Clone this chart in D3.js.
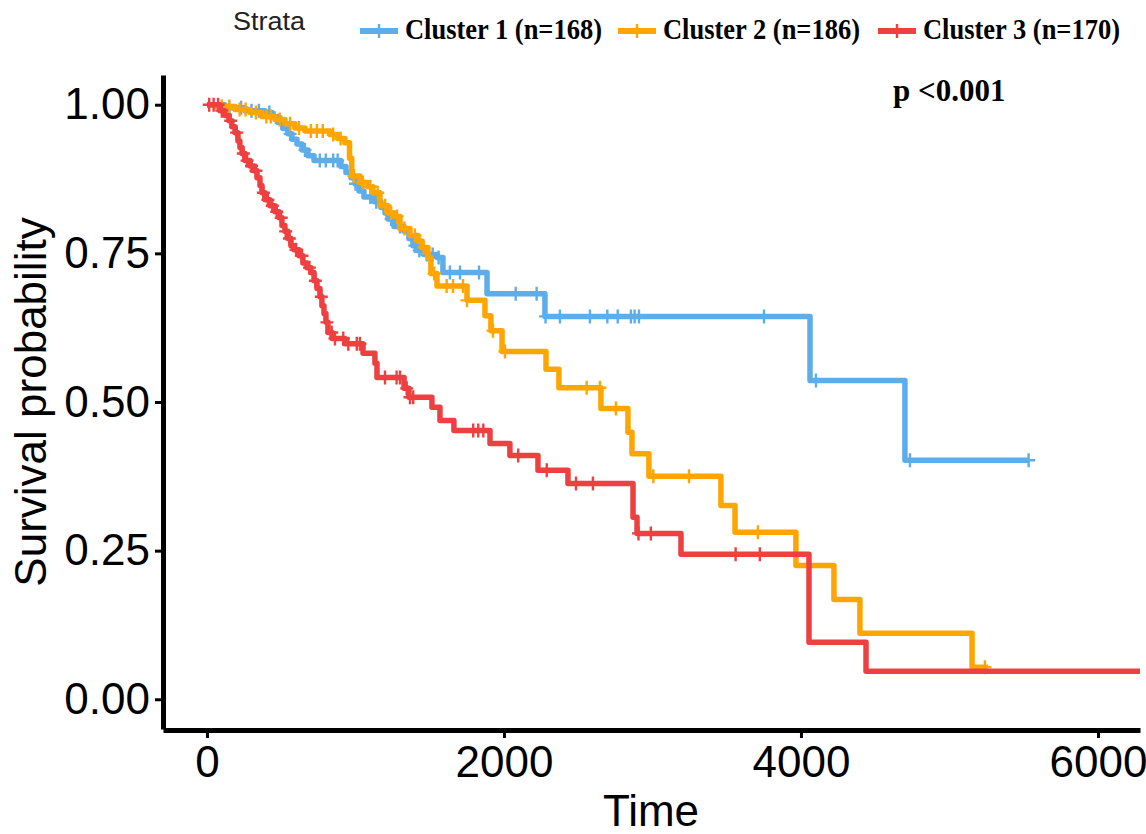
<!DOCTYPE html>
<html>
<head>
<meta charset="utf-8">
<script src="https://cdn.jsdelivr.net/npm/d3@7/dist/d3.min.js"></script>
<style>
  html, body { margin: 0; padding: 0; background: #fff; }
  svg { display: block; }
</style>
</head>
<body>
<div id="chart"></div>
<script>
// ---------------- DATA ----------------
const strata = ["Cluster 1 (n=168)", "Cluster 2 (n=186)", "Cluster 3 (n=170)"];
const colors = ["#5DADEB", "#FFA500", "#EE4040"];

// step points: [time, survival after time]
const cluster1Steps = [[0,1],[121,0.995],[256,0.990],[391,0.987],[438,0.980],[478,0.970],[512,0.960],[545,0.951],[572,0.942],[606,0.934],[640,0.924],[680,0.914],[721,0.906],[902,0.896],[936,0.886],[970,0.877],[997,0.867],[1024,0.855],[1057,0.845],[1125,0.837],[1172,0.827],[1199,0.818],[1219,0.808],[1259,0.795],[1327,0.787],[1360,0.775],[1387,0.763],[1414,0.755],[1461,0.748],[1549,0.743],[1589,0.718],[1886,0.682],[2276,0.644],[4061,0.536],[4700,0.402],[5533,0.402]];
const cluster2Steps = [[0,1],[54,0.997],[189,0.992],[290,0.987],[370,0.980],[458,0.975],[525,0.968],[593,0.961],[660,0.956],[828,0.950],[882,0.943],[929,0.936],[960,0.910],[975,0.880],[1030,0.869],[1084,0.862],[1118,0.852],[1165,0.830],[1219,0.818],[1266,0.812],[1300,0.792],[1367,0.780],[1421,0.771],[1448,0.760],[1488,0.743],[1508,0.716],[1549,0.695],[1751,0.671],[1872,0.645],[1912,0.620],[1987,0.585],[2283,0.555],[2370,0.524],[2653,0.489],[2835,0.449],[2862,0.413],[2976,0.375],[3461,0.326],[3556,0.281],[3966,0.225],[4222,0.168],[4397,0.111],[5152,0.054],[5259,0.054]];
const cluster3Steps = [[0,1],[88,0.990],[121,0.982],[148,0.973],[168,0.963],[189,0.953],[209,0.939],[222,0.928],[236,0.918],[256,0.906],[290,0.897],[316,0.889],[337,0.877],[357,0.864],[370,0.852],[391,0.840],[424,0.830],[458,0.820],[485,0.810],[505,0.797],[525,0.787],[545,0.775],[566,0.763],[586,0.756],[620,0.746],[646,0.734],[673,0.726],[700,0.718],[721,0.704],[741,0.691],[761,0.677],[774,0.662],[788,0.649],[801,0.634],[815,0.617],[842,0.607],[929,0.598],[1051,0.582],[1131,0.565],[1145,0.541],[1327,0.523],[1360,0.508],[1515,0.491],[1569,0.469],[1663,0.452],[1906,0.430],[2040,0.410],[2229,0.385],[2431,0.363],[2869,0.306],[2896,0.279],[3192,0.244],[4054,0.096],[4438,0.047],[6283,0.047]];

// censoring times
const cluster1Censor = [150,230,300,350,420,500,560,660,760,800,850,880,1000,1100,1140,1240,1300,1400,1430,1480,1520,1560,1636,1704,1832,2079,2220,2280,2377,2579,2696,2766,2855,2880,2909,3751,4101,4734,5533];
const cluster2Censor = [100,150,220,260,330,400,430,490,560,620,700,740,780,850,900,990,1050,1100,1150,1200,1240,1280,1330,1400,1460,1530,1614,1657,1724,1751,1926,2007,2557,2646,2754,3006,3246,3710,5239];
const cluster3Censor = [15,45,75,100,160,200,245,270,300,330,380,410,440,470,500,530,555,600,640,690,730,770,808,840,862,918,952,1009,1030,1199,1277,1300,1345,1367,1389,1793,1827,1861,2096,2288,2485,2599,2906,2989,3560,3723];

const xTicks = [0, 2000, 4000, 6000];
const yTicks = [0, 0.25, 0.5, 0.75, 1.0];
const pText = "p <0.001";

// ---------------- DRAW ----------------
const W = 1146, H = 834;
const svg = d3.select("#chart").append("svg").attr("width", W).attr("height", H);

const x = d3.scaleLinear().domain([-296, 6283]).range([163, 1140]);
const y = d3.scaleLinear().domain([-0.05, 1.05]).range([729, 75]);

svg.append("defs").append("clipPath").attr("id", "plotclip")
  .append("rect").attr("x", 163).attr("y", 60).attr("width", 1140 - 163).attr("height", 680);

const series = [
  {steps: cluster1Steps, censor: cluster1Censor, color: colors[0]},
  {steps: cluster2Steps, censor: cluster2Censor, color: colors[1]},
  {steps: cluster3Steps, censor: cluster3Censor, color: colors[2]}
];

function survAt(steps, t) {
  let s = steps[0][1];
  for (const [tt, ss] of steps) { if (tt <= t) s = ss; else break; }
  return s;
}

const line = d3.line().x(d => x(d[0])).y(d => y(d[1])).curve(d3.curveStepAfter);
const plot = svg.append("g").attr("clip-path", "url(#plotclip)");
const plus = "M-6.5,0H6.5M0,-7V7";

series.forEach(s => {
  const g = plot.append("g");
  g.append("path").datum(s.steps)
    .attr("d", line)
    .attr("fill", "none")
    .attr("stroke", s.color)
    .attr("stroke-width", 5.5)
    .attr("stroke-linejoin", "round");
  g.selectAll("path.cens").data(s.censor).enter().append("path")
    .attr("class", "cens")
    .attr("d", plus)
    .attr("transform", t => `translate(${x(t)},${y(survAt(s.steps, t))})`)
    .attr("stroke", s.color)
    .attr("stroke-width", 2.4)
    .attr("fill", "none");
});

// axes
const font = "'Liberation Sans', Arial, sans-serif";
const yAxis = svg.append("g").attr("transform", "translate(163,0)")
  .call(d3.axisLeft(y).tickValues(yTicks).tickFormat(d3.format(".2f")).tickSize(8).tickSizeOuter(0).tickPadding(5));
const xAxis = svg.append("g").attr("transform", "translate(0,730)")
  .call(d3.axisBottom(x).tickValues(xTicks).tickFormat(d3.format("d")).tickSize(8).tickSizeOuter(0).tickPadding(8));

[yAxis, xAxis].forEach(a => {
  a.select(".domain").attr("stroke", "#000").attr("stroke-width", 5);
  a.selectAll(".tick line").attr("stroke", "#000").attr("stroke-width", 3);
  a.selectAll(".tick text").attr("fill", "#000").style("font-family", font).style("font-size", "44px");
});

// axis titles
svg.append("text").attr("x", 651).attr("y", 826).attr("text-anchor", "middle")
  .style("font-family", font).style("font-size", "44px").attr("fill", "#000").text("Time");
svg.append("text").attr("transform", "translate(46,402) rotate(-90)").attr("text-anchor", "middle")
  .style("font-family", font).style("font-size", "44px").attr("fill", "#000").text("Survival probability");

// p value
svg.append("text").attr("x", 893).attr("y", 101)
  .style("font-family", "'Liberation Serif', 'Times New Roman', serif").style("font-weight", "bold")
  .style("font-size", "31px").attr("fill", "#000").text(pText);

// legend
svg.append("text").attr("x", 233).attr("y", 30)
  .style("font-family", font).style("font-size", "25px").attr("fill", "#222")
  .attr("textLength", 72).attr("lengthAdjust", "spacingAndGlyphs").text("Strata");

const legendX = [360, 618, 878];
strata.forEach((name, i) => {
  const g = svg.append("g").attr("transform", `translate(${legendX[i]},31)`);
  g.append("line").attr("x1", 0).attr("x2", 38).attr("y1", 0).attr("y2", 0)
    .attr("stroke", colors[i]).attr("stroke-width", 6);
  g.append("path").attr("d", plus).attr("transform", "translate(19,0)")
    .attr("stroke", colors[i]).attr("stroke-width", 2.4);
  g.append("text").attr("x", 45).attr("y", 8)
    .style("font-family", "'Liberation Serif', 'Times New Roman', serif").style("font-weight", "bold")
    .style("font-size", "30px").attr("fill", "#000")
    .attr("textLength", 197).attr("lengthAdjust", "spacingAndGlyphs").text(name);
});
</script>
</body>
</html>
